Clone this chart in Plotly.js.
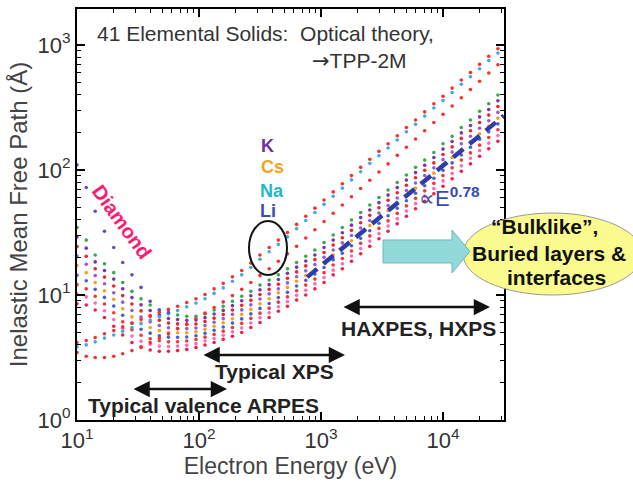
<!DOCTYPE html>
<html><head><meta charset="utf-8">
<script src="https://cdn.plot.ly/plotly-3.0.1.min.js"></script>
<style>html,body{margin:0;padding:0;background:#fff}#chart{width:633px;height:486px}</style>
</head><body><div id="chart"></div>
<script>
// Electron energy grid (eV)
const energies = [10, 11.9, 14.1, 16.8, 20, 23.7, 28.2, 33.5, 39.8, 47.3, 56.2, 66.8, 79.4, 94.4, 112, 133, 158, 188, 224, 266, 316, 376, 447, 531, 631, 750, 891, 1059, 1259, 1496, 1778, 2113, 2512, 2985, 3548, 4217, 5012, 5957, 7079, 8414, 10000, 11885, 14125, 16788, 19953, 23714, 28184];

// Main band of elemental solids (IMFP, Angstrom), top to bottom
const band0 = [34.7, 27.5, 20.9, 17.8, 15.1, 12.6, 10.7, 9.33, 8.32, 7.59, 7.08, 6.92, 6.76, 6.76, 7.08, 7.59, 8.13, 8.91, 9.77, 10.7, 12.0, 13.2, 14.5, 16.2, 18.2, 20.4, 22.9, 26.3, 30.2, 34.7, 39.8, 45.7, 52.5, 60.3, 69.2, 79.4, 91.2, 105, 120, 138, 162, 186, 219, 251, 295, 339, 398];
const band1 = [29.1, 23.7, 18.4, 15.7, 13.4, 11.2, 9.53, 8.34, 7.50, 6.90, 6.49, 6.37, 6.27, 6.30, 6.59, 7.04, 7.53, 8.22, 8.99, 9.86, 11.0, 12.1, 13.3, 14.9, 16.7, 18.7, 20.9, 24.0, 27.5, 31.5, 36.2, 41.6, 47.8, 54.8, 63.0, 72.3, 83.0, 95.3, 109, 126, 147, 169, 198, 227, 266, 305, 358];
const band2 = [24.4, 20.4, 16.2, 13.9, 11.8, 9.89, 8.47, 7.46, 6.76, 6.28, 5.96, 5.87, 5.81, 5.86, 6.14, 6.53, 6.98, 7.59, 8.28, 9.08, 10.1, 11.1, 12.2, 13.6, 15.3, 17.1, 19.2, 21.9, 25.1, 28.7, 32.9, 37.8, 43.4, 49.9, 57.3, 65.8, 75.5, 86.7, 99.5, 114, 133, 153, 179, 206, 240, 275, 322];
const band3 = [20.5, 17.6, 14.3, 12.3, 10.4, 8.77, 7.52, 6.67, 6.10, 5.70, 5.47, 5.41, 5.38, 5.45, 5.70, 6.06, 6.47, 7.00, 7.60, 8.34, 9.28, 10.2, 11.2, 12.5, 14.0, 15.6, 17.5, 20.0, 22.9, 26.1, 29.9, 34.4, 39.5, 45.3, 52.0, 59.7, 68.5, 78.7, 90.4, 104, 121, 139, 162, 186, 216, 248, 289];
const band4 = [17.2, 15.1, 12.6, 10.8, 9.23, 7.76, 6.68, 5.96, 5.50, 5.19, 5.01, 4.99, 4.99, 5.07, 5.31, 5.62, 6.00, 6.46, 7.00, 7.67, 8.51, 9.33, 10.4, 11.5, 12.9, 14.3, 16.0, 18.2, 20.9, 23.7, 27.2, 31.3, 35.9, 41.2, 47.3, 54.3, 62.4, 71.6, 82.2, 94.4, 110, 126, 146, 168, 195, 224, 260];
const band5 = [14.4, 13.0, 11.1, 9.57, 8.15, 6.89, 5.94, 5.32, 4.95, 4.72, 4.60, 4.59, 4.61, 4.72, 4.94, 5.22, 5.55, 5.96, 6.44, 7.06, 7.81, 8.56, 9.53, 10.5, 11.8, 13.1, 14.7, 16.6, 19.1, 21.6, 24.8, 28.4, 32.7, 37.5, 43.1, 49.4, 56.8, 65.2, 74.8, 85.9, 99.4, 114, 132, 152, 176, 202, 234];
const band6 = [12.1, 11.2, 9.77, 8.47, 7.21, 6.10, 5.28, 4.76, 4.47, 4.30, 4.22, 4.23, 4.28, 4.40, 4.60, 4.84, 5.14, 5.50, 5.93, 6.50, 7.16, 7.85, 8.77, 9.66, 10.8, 12.0, 13.4, 15.1, 17.4, 19.6, 22.5, 25.9, 29.7, 34.1, 39.2, 45.0, 51.6, 59.3, 68.1, 78.2, 90.2, 104, 120, 137, 158, 182, 210];
const band7 = [10.2, 9.66, 8.61, 7.48, 6.37, 5.41, 4.69, 4.26, 4.03, 3.90, 3.87, 3.90, 3.96, 4.08, 4.28, 4.49, 4.76, 5.07, 5.45, 5.97, 6.57, 7.20, 8.05, 8.86, 9.94, 10.9, 12.3, 13.8, 15.8, 17.8, 20.5, 23.5, 27.0, 31.0, 35.6, 40.8, 46.9, 53.8, 61.8, 71.0, 81.8, 93.9, 108, 124, 143, 164, 189];
const band8 = [8.5, 8.32, 7.59, 6.61, 5.62, 4.79, 4.17, 3.80, 3.63, 3.55, 3.55, 3.59, 3.67, 3.80, 3.98, 4.17, 4.42, 4.68, 5.01, 5.50, 6.03, 6.61, 7.41, 8.13, 9.12, 10.0, 11.2, 12.6, 14.5, 16.2, 18.6, 21.4, 24.5, 28.2, 32.4, 37.2, 42.7, 49.0, 56.2, 64.6, 74.1, 85.1, 97.7, 112, 129, 148, 170];

// Alkali metals (upper outliers)
const alkaliRed1 = [4.17, 4.32, 4.57, 4.90, 5.19, 5.56, 5.96, 6.38, 6.84, 7.24, 7.67, 8.13, 8.71, 9.33, 10.1, 11.2, 12.4, 14.0, 15.7, 18.0, 20.9, 24.0, 27.5, 31.6, 36.7, 42.7, 49.5, 57.5, 66.8, 77.6, 90.2, 105, 122, 141, 162, 188, 219, 251, 292, 339, 389, 452, 525, 603, 700, 813, 933];
const alkaliBlue = [3.85, 3.99, 4.22, 4.52, 4.79, 5.13, 5.50, 5.89, 6.31, 6.68, 7.08, 7.50, 8.04, 8.61, 9.32, 10.3, 11.4, 12.9, 14.5, 16.6, 19.3, 22.2, 25.4, 29.2, 33.9, 39.4, 45.7, 53.1, 61.7, 71.6, 83.3, 96.9, 113, 130, 150, 174, 202, 232, 270, 313, 359, 417, 485, 557, 646, 750, 861];
const alkaliRed2 = [3.47, 3.24, 3.16, 3.16, 3.24, 3.39, 3.59, 3.85, 4.17, 4.52, 4.90, 5.37, 5.89, 6.46, 7.16, 7.94, 8.81, 9.89, 11.1, 12.6, 14.3, 16.2, 18.6, 21.4, 24.5, 28.6, 33.3, 38.7, 45.1, 52.5, 61.1, 71.1, 82.8, 96.4, 112, 131, 152, 177, 206, 240, 279, 325, 378, 441, 513, 597, 695];

// Diamond (low-energy branch)
const diamond = [110, 72.4, 46.8, 32.4, 24.0, 18.2, 14.5, 11.5, 8.91, 7.59, 7.24];

// E^0.78 guide line
const fitE = [770, 31600];
const fitL = [13.9, 272];

// Tick labels
const xTickVals = [10, 100, 1000, 10000];
const xTickText = ['10<sup>1</sup>', '10<sup>2</sup>', '10<sup>3</sup>', '10<sup>4</sup>'];
const yTickVals = [1, 10, 100, 1000];
const yTickText = ['10<sup>0</sup>', '10<sup>1</sup>', '10<sup>2</sup>', '10<sup>3</sup>'];
const xMinor = [20,30,40,50,60,70,80,90,200,300,400,500,600,700,800,900,2000,3000,4000,5000,6000,7000,8000,9000,20000,30000];
const yMinor = [2,3,4,5,6,7,8,9,20,30,40,50,60,70,80,90,200,300,400,500,600,700,800,900,2000];

const bandCurves = [band0, band1, band2, band3, band4, band5, band6, band7, band8];
const bandColors = ['#38a852', '#7a35a8', '#e8262c', '#9a5ad2', '#f4a21c', '#4b5fd0', '#ec3a3a', '#ff6ab4', '#f01e46'];

const traces = [];
bandCurves.forEach((ys, i) => traces.push({
  x: energies, y: ys, type: 'scatter', mode: 'markers',
  marker: {size: 3.6, color: bandColors[i]}, hoverinfo: 'skip'
}));
[[alkaliRed2, '#f03232'], [alkaliBlue, '#45a8e2'], [alkaliRed1, '#f03232']].forEach(([ys, c]) => traces.push({
  x: energies, y: ys, type: 'scatter', mode: 'markers',
  marker: {size: 3.6, color: c}, hoverinfo: 'skip'
}));
traces.push({
  x: energies.slice(0, diamond.length), y: diamond, type: 'scatter', mode: 'markers',
  marker: {size: 3.6, color: '#5b4fcf'}, hoverinfo: 'skip'
});
traces.push({
  x: fitE, y: fitL, type: 'scatter', mode: 'lines',
  line: {color: '#2e3da8', width: 4.5, dash: '13px,8px'}, hoverinfo: 'skip'
});

const FONT = 'Arial, "Liberation Sans", sans-serif';
function ann(text, x, y, size, color, extra) {
  return Object.assign({text: text, x: x, y: y, xref: 'paper', yref: 'paper', showarrow: false,
    font: {family: FONT, size: size, color: color}, xanchor: 'center', yanchor: 'middle'}, extra || {});
}
function dblArrow(x, y, lenPx) {
  return {text: '', x: x, y: y, xref: 'paper', yref: 'paper', ax: -lenPx, ay: 0,
    showarrow: true, arrowhead: 2, startarrowhead: 2, arrowside: 'end+start', arrowsize: 1.3, startarrowsize: 1.3,
    arrowwidth: 2.5, arrowcolor: '#111', standoff: 0, startstandoff: 0};
}

const axisCommon = {
  type: 'log', showgrid: false, zeroline: false,
  showline: true, linecolor: '#000', linewidth: 2, mirror: 'allticks',
  ticks: 'inside', ticklen: 8, tickwidth: 1.5, tickcolor: '#000',
  tickmode: 'array',
  tickfont: {family: FONT, size: 22, color: '#333'}
};

const layout = {
  width: 633, height: 486,
  margin: {l: 77, r: 129, t: 9, b: 66},
  paper_bgcolor: '#fff', plot_bgcolor: '#fff',
  showlegend: false,
  font: {family: FONT},
  xaxis: Object.assign({}, axisCommon, {
    range: [1, 4.5], tickvals: xTickVals, ticktext: xTickText,
    minor: {tickmode: 'array', tickvals: xMinor, ticks: 'inside', ticklen: 4, tickwidth: 1, tickcolor: '#000'},
    title: {text: 'Electron Energy (eV)', font: {family: FONT, size: 23, color: '#444'}, standoff: 3}
  }),
  yaxis: Object.assign({}, axisCommon, {
    range: [0, 3.288], tickvals: yTickVals, ticktext: yTickText,
    minor: {tickmode: 'array', tickvals: yMinor, ticks: 'inside', ticklen: 4, tickwidth: 1, tickcolor: '#000'},
    title: {text: 'Inelastic Mean Free Path (Å)', font: {family: FONT, size: 24, color: '#444'}, standoff: 3}
  }),
  shapes: [
    {type: 'circle', xref: 'paper', yref: 'paper', x0: 0.4028, x1: 0.4918, y0: 0.3528, y1: 0.4842,
     line: {color: '#111', width: 2}},
    {type: 'circle', xref: 'paper', yref: 'paper', x0: 0.904, x1: 1.3232, y0: 0.3041, y1: 0.5036,
     fillcolor: '#fafa8e', line: {color: '#9a9a9a', width: 1}},
    {type: 'path', xref: 'paper', yref: 'paper',
     path: 'M 0.7166 0.438 L 0.8782 0.438 L 0.8782 0.4623 L 0.9204 0.41 L 0.8782 0.3577 L 0.8782 0.382 L 0.7166 0.382 Z',
     fillcolor: '#92dada', line: {color: '#6fb8b8', width: 1}}
  ],
  annotations: [
    ann('41 Elemental Solids:  Optical theory,', 0.0422, 0.9416, 21, '#333', {xanchor: 'left'}),
    ann('<span style="font-family:DejaVu Sans">→</span>TPP-2M', 0.5457, 0.8735, 21, '#333', {xanchor: 'left'}),
    ann('<b>Diamond</b>', 0.1054, 0.4818, 20, '#ff1a70', {textangle: 54}),
    ann('<b>K</b>', 0.445, 0.6667, 18, '#7030a0'),
    ann('<b>Cs</b>', 0.4567, 0.6156, 18, '#f4a21c'),
    ann('<b>Na</b>', 0.4567, 0.5572, 18, '#1fb8c8'),
    ann('<b>Li</b>', 0.4473, 0.5085, 18, '#3d4db7'),
    ann('∝E<sup><b>0.78</b></sup>', 0.8735, 0.5426, 22, '#3a4ab2'),
    ann('<b>Typical valence ARPES</b>', 0.2974, 0.0341, 21, '#222'),
    ann('<b>Typical XPS</b>', 0.4637, 0.1168, 21, '#222'),
    ann('<b>HAXPES, HXPS</b>', 0.7986, 0.2238, 21, '#222'),
    dblArrow(0.3513, 0.0754, 95),
    dblArrow(0.6276, 0.1582, 143),
    dblArrow(0.9672, 0.2749, 148),
    ann('<b>“Bulklike”,</b>', 1.0937, 0.4696, 21, '#111'),
    ann('<b>Buried layers &amp;</b>', 1.1054, 0.4063, 21, '#111'),
    ann('<b>interfaces</b>', 1.1218, 0.3479, 21, '#111')
  ]
};

Plotly.newPlot('chart', traces, layout, {displayModeBar: false, staticPlot: true});
</script>
</body></html>
